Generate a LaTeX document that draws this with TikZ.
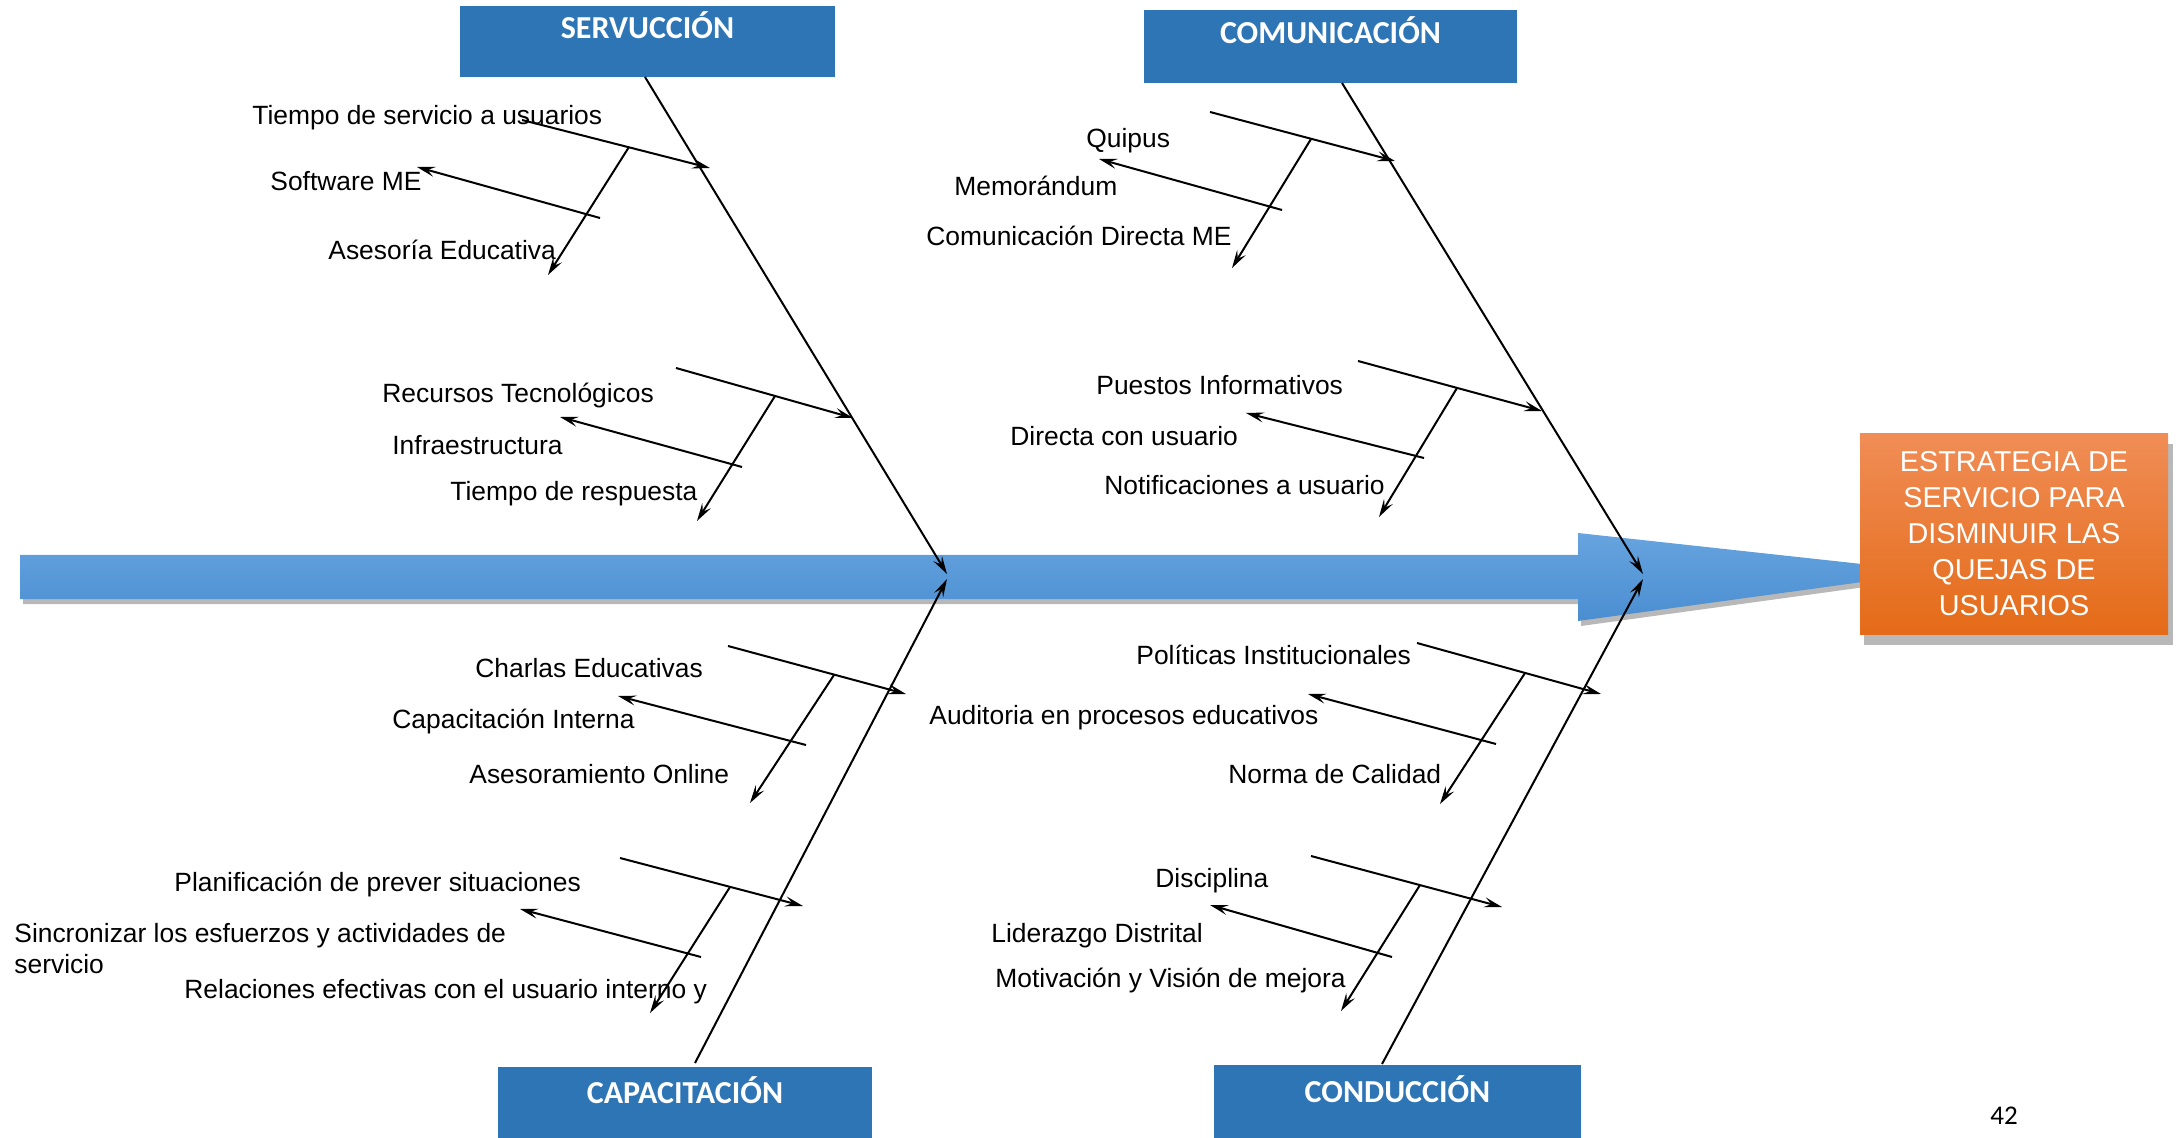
\documentclass[tikz,border=0pt]{standalone}
\usepackage{fontspec}
\setmainfont{Liberation Sans}
\newfontfamily\catfont{Carlito}
\usetikzlibrary{arrows.meta}
\definecolor{catblue}{HTML}{2E75B6}
\definecolor{spinetop}{HTML}{67A4DF}
\definecolor{spinebot}{HTML}{4A8ED1}
\definecolor{goaltop}{HTML}{F08D56}
\definecolor{goalbot}{HTML}{E46B18}
\tikzset{
  lbl/.style={anchor=base west, inner sep=0pt, font=\fontsize{13.2}{15.5}\selectfont},
  bone/.style={draw=black, line width=1pt, -{Stealth[length=9pt,width=5pt,inset=3.5pt]}},
  catbox/.style={fill=catblue, text=white, inner ysep=0pt, anchor=north,
    font=\catfont\bfseries\fontsize{16}{18}\selectfont},
  goalbox/.style={top color=goaltop, bottom color=goalbot, text=white, align=center,
    minimum width=154pt, minimum height=100pt, inner sep=0pt,
    font=\fontsize{14.4}{18}\selectfont},
  softshadow/.style={fill=black, opacity=0.28},
}
\begin{document}
\begin{tikzpicture}[x=0.5pt,y=-0.5pt]
\useasboundingbox (0,0) rectangle (2178,1138);

% main spine arrow with its shadow
\path[softshadow] (23,560) -- (1581,560) -- (1581,538) -- (1938,577) -- (1581,626) -- (1581,604) -- (23,604) -- cycle;
\path[top color=spinetop, bottom color=spinebot]
  (20,555) -- (1578,555) -- (1578,533) -- (1935,572) -- (1578,621) -- (1578,599) -- (20,599) -- cycle;

% effect box
\path[softshadow] (1864,444) rectangle (2173,645);
\node[goalbox] (goal) at (2014,534) {ESTRATEGIA DE\\SERVICIO PARA\\DISMINUIR LAS\\QUEJAS DE\\USUARIOS};

% category boxes
\node[catbox, minimum width=187.5pt, text height=16pt, text depth=19.5pt] (serv) at (647.5,6) {SERVUCCIÓN};
\node[catbox, minimum width=186.5pt, text height=16.5pt, text depth=20pt] (comm) at (1330.5,10) {COMUNICACIÓN};
\node[catbox, minimum width=187pt, text height=18pt, text depth=17.5pt] (capa) at (685,1067) {CAPACITACIÓN};
\node[catbox, minimum width=183.5pt, text height=18.5pt, text depth=18pt] (cond) at (1397.5,1065) {CONDUCCIÓN};

\node[anchor=base, inner sep=0pt, font=\catfont\fontsize{13.5}{16}\selectfont] (page) at (2004,1124) {42};

% main bones
\coordinate (servRoot) at (645,77);
\coordinate (commRoot) at (1342,83);
\coordinate (capaRoot) at (695,1063);
\coordinate (condRoot) at (1382,1064);
\coordinate (upTipL) at (947,574);
\coordinate (loTipL) at (947,579);
\coordinate (upTipR) at (1643,574);
\coordinate (loTipR) at (1643,579);
\draw[bone] (servRoot) -- (upTipL);
\draw[bone] (capaRoot) -- (loTipL);
\draw[bone] (commRoot) -- (upTipR);
\draw[bone] (condRoot) -- (loTipR);

% ---- SERVUCCIÓN, first group
\coordinate (s1a) at (522,120);  \coordinate (s1b) at (710,168);
\coordinate (s1c) at (629,147);  \coordinate (s1d) at (548,275);
\coordinate (s1e) at (600,218);  \coordinate (s1f) at (417,167);
\draw[bone] (s1a) -- (s1b);
\draw[bone] (s1c) -- (s1d);
\draw[bone] (s1e) -- (s1f);
\node[lbl] (s1t1) at (252,125) {Tiempo de servicio a usuarios};
\node[lbl] (s1t2) at (270,191) {Software ME};
\node[lbl] (s1t3) at (328,260) {Asesoría Educativa};

% ---- SERVUCCIÓN, second group
\coordinate (s2a) at (676,368);  \coordinate (s2b) at (853,418);
\coordinate (s2c) at (775,396);  \coordinate (s2d) at (697,521);
\coordinate (s2e) at (742,467);  \coordinate (s2f) at (560,417);
\draw[bone] (s2a) -- (s2b);
\draw[bone] (s2c) -- (s2d);
\draw[bone] (s2e) -- (s2f);
\node[lbl] (s2t1) at (382,403) {Recursos Tecnológicos};
\node[lbl] (s2t2) at (392,455) {Infraestructura};
\node[lbl] (s2t3) at (450,501) {Tiempo de respuesta};

% ---- COMUNICACIÓN, first group
\coordinate (c1a) at (1210,112); \coordinate (c1b) at (1395,161);
\coordinate (c1c) at (1311,139); \coordinate (c1d) at (1232,268);
\coordinate (c1e) at (1282,210); \coordinate (c1f) at (1099,159);
\draw[bone] (c1a) -- (c1b);
\draw[bone] (c1c) -- (c1d);
\draw[bone] (c1e) -- (c1f);
\node[lbl] (c1t1) at (1086,148) {Quipus};
\node[lbl] (c1t2) at (954,196) {Memorándum};
\node[lbl] (c1t3) at (926,246) {Comunicación Directa ME};

% ---- COMUNICACIÓN, second group
\coordinate (c2a) at (1358,361); \coordinate (c2b) at (1542,411);
\coordinate (c2c) at (1457,388); \coordinate (c2d) at (1379,517);
\coordinate (c2e) at (1424,458); \coordinate (c2f) at (1246,413);
\draw[bone] (c2a) -- (c2b);
\draw[bone] (c2c) -- (c2d);
\draw[bone] (c2e) -- (c2f);
\node[lbl] (c2t1) at (1096,395) {Puestos Informativos};
\node[lbl] (c2t2) at (1010,446) {Directa con usuario};
\node[lbl] (c2t3) at (1104,495) {Notificaciones a usuario};

% ---- CAPACITACIÓN, first group
\coordinate (p1a) at (728,646);  \coordinate (p1b) at (906,694);
\coordinate (p1c) at (834,675);  \coordinate (p1d) at (750,803);
\coordinate (p1e) at (806,745);  \coordinate (p1f) at (618,696);
\draw[bone] (p1a) -- (p1b);
\draw[bone] (p1c) -- (p1d);
\draw[bone] (p1e) -- (p1f);
\node[lbl] (p1t1) at (475,677) {Charlas Educativas};
\node[lbl] (p1t2) at (392,728) {Capacitación Interna};
\node[lbl] (p1t3) at (469,783) {Asesoramiento Online};

% ---- CAPACITACIÓN, second group
\coordinate (p2a) at (620,858);  \coordinate (p2b) at (803,906);
\coordinate (p2c) at (730,887);  \coordinate (p2d) at (650,1013);
\coordinate (p2e) at (701,957);  \coordinate (p2f) at (520,909);
\draw[bone] (p2a) -- (p2b);
\draw[bone] (p2c) -- (p2d);
\draw[bone] (p2e) -- (p2f);
\node[lbl] (p2t1) at (174,891) {Planificación de prever situaciones};
\node[lbl] (p2t2) at (14,942) {Sincronizar los esfuerzos y actividades de};
\node[lbl] (p2t2b) at (14,973) {servicio};
\node[lbl] (p2t3) at (184,998) {Relaciones efectivas con el usuario interno y};

% ---- CONDUCCIÓN, first group
\coordinate (d1a) at (1417,643); \coordinate (d1b) at (1601,694);
\coordinate (d1c) at (1525,673); \coordinate (d1d) at (1440,804);
\coordinate (d1e) at (1496,744); \coordinate (d1f) at (1308,694);
\draw[bone] (d1a) -- (d1b);
\draw[bone] (d1c) -- (d1d);
\draw[bone] (d1e) -- (d1f);
\node[lbl] (d1t1) at (1136,664) {Políticas Institucionales};
\node[lbl] (d1t2) at (929,724) {Auditoria en procesos educativos};
\node[lbl] (d1t3) at (1228,783) {Norma de Calidad};

% ---- CONDUCCIÓN, second group
\coordinate (d2a) at (1311,856); \coordinate (d2b) at (1502,907);
\coordinate (d2c) at (1420,885); \coordinate (d2d) at (1341,1011);
\coordinate (d2e) at (1392,957); \coordinate (d2f) at (1210,905);
\draw[bone] (d2a) -- (d2b);
\draw[bone] (d2c) -- (d2d);
\draw[bone] (d2e) -- (d2f);
\node[lbl] (d2t1) at (1155,887) {Disciplina};
\node[lbl] (d2t2) at (991,942) {Liderazgo Distrital};
\node[lbl] (d2t3) at (995,987) {Motivación y Visión de mejora};
\end{tikzpicture}
\end{document}
